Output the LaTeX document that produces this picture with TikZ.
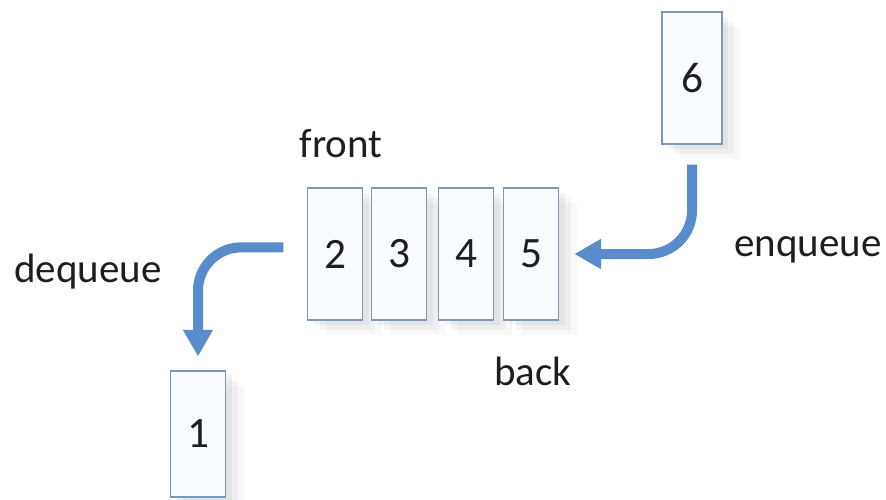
\documentclass[tikz,border=0pt]{standalone}
\usepackage{fontspec}
\setmainfont{Carlito}
\usepackage{tikz}
\usetikzlibrary{arrows.meta, shadows}
\usepackage{xcolor}

\definecolor{boxline}{RGB}{125,152,185}
\definecolor{boxfill}{RGB}{248,251,255}
\definecolor{arrowblue}{RGB}{88,140,204}
\definecolor{inkgray}{RGB}{30,30,30}

\begin{document}
\begin{tikzpicture}[x=0.03cm, y=-0.03cm,
    qbox/.style={draw=boxline, fill=boxfill, line width=1.5pt, inner sep=0pt,
        minimum width=1.65cm, minimum height=3.95cm, text=inkgray,
        font=\fontsize{37}{44}\selectfont,
        drop shadow={shadow xshift=.55cm, shadow yshift=-.45cm, opacity=.06},
        drop shadow={shadow xshift=.36cm, shadow yshift=-.3cm, opacity=.08},
        drop shadow={shadow xshift=.18cm, shadow yshift=-.14cm, opacity=.1}},
    qarrow/.style={draw=arrowblue, line width=0.3cm, rounded corners=1.3cm,
        -{Triangle[length=0.8cm, width=0.85cm]}},
    lbl/.style={anchor=base, text=inkgray, font=\fontsize{35}{42}\selectfont}]

\useasboundingbox (0,0) rectangle (886,500);

% Queue
\foreach \n/\x in {2/335,3/399,4/466,5/531}
    \node[qbox] (q\n) at (\x,254) {\n};

% Incoming and outgoing items
\node[qbox, minimum width=1.8cm] (q6) at (692,78) {6};
\node[qbox, minimum height=3.8cm] (q1) at (198,434) {1};

% Arrows
\draw[qarrow, shorten <=0.6cm, shorten >=0.45cm] (q6.south) |- (q5.east);
\draw[qarrow, shorten <=0.7cm, shorten >=0.4cm] ([yshift=0.2cm]q2.west) -| (q1.north);

% Labels
\node[lbl] (front) at (341,157) {front};
\node[lbl] (back) at (533,385) {back};
\node[lbl] (enq) at (808,256) {enqueue};
\node[lbl] (deq) at (88,282) {dequeue};
\end{tikzpicture}
\end{document}
